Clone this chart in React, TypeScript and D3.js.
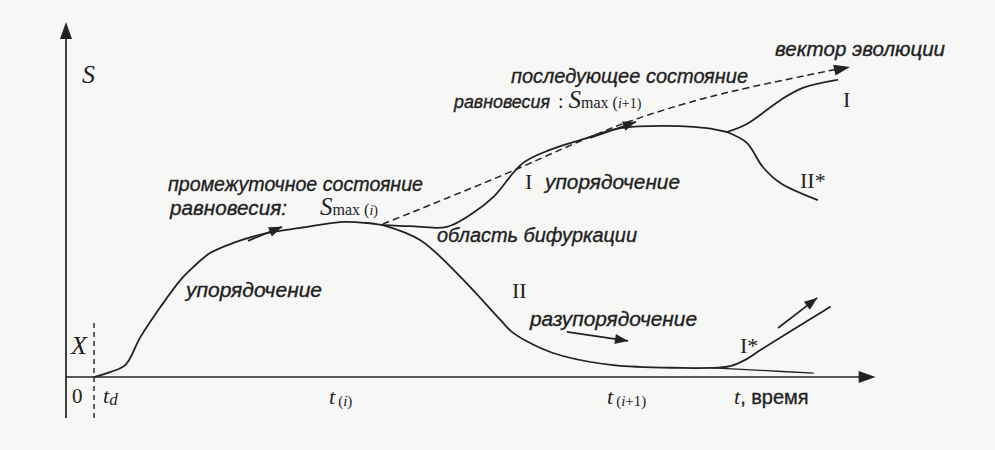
import React, { useEffect } from "react";
import * as d3 from "d3";

type P = [number, number];

// Data: t (0..100 time units) vs S (0..100 entropy units)
const trunk: P[] = [[3.5, 0], [5.5, 1.4], [7.4, 3.4], [9.3, 11.4], [11.8, 20], [14.3, 27.7], [15.9, 31.4], [18, 35.4], [20.9, 38.3], [25.1, 41.1], [29.3, 42.6], [34.6, 44.3], [37.6, 44], [39.6, 43.4]];
const branchII: P[] = [[39.6, 43.4], [44.3, 39.1], [49.3, 28.6], [54.3, 16.3], [55.9, 12.6], [59.3, 8.3], [62.1, 6], [68.4, 3.4], [76.8, 2.6], [80.9, 2.6]];
const tailToAxis: P[] = [[80.9, 2.6], [86.8, 1.9], [93.4, 1.1]];
const branchIStar: P[] = [[80.9, 2.6], [83, 3.1], [84.9, 4.9], [86.8, 7.7], [95.5, 20]];
const branchUpper: P[] = [[39.6, 43.4], [43, 43.1], [47.6, 42.9], [50.9, 46.9], [53.4, 51.4], [57.1, 61.1], [60.5, 64.9], [64.3, 67.7], [69.3, 71.1], [76.8, 71.7], [80.1, 71.1], [82.6, 70]];
const branchI: P[] = [[82.6, 70], [85.1, 72.3], [89.3, 79.1], [92.1, 82.6], [96.4, 84.9]];
const branchIIStar: P[] = [[82.6, 70], [85.1, 66.9], [87.1, 60], [89.3, 55.4], [93.9, 50.6]];
const evolutionVector: P[] = [[39.6, 43.7], [54.3, 57.4], [64.3, 67.4], [70.5, 73.1], [80.9, 80.3], [98, 88.6]];
const arrowOrdering1: P[] = [[22.75, 38.9], [27, 42.9]];
const arrowOrdering2: P[] = [[65.5, 68.3], [71.25, 72.9]];
const arrowDisorder: P[] = [[62.6, 12.9], [70.25, 10.3]];
const arrowIStar: P[] = [[89, 14], [93.9, 22.6]];
const tdTime = 3.5;

const W = 995;
const H = 450;
const x = d3.scaleLinear().domain([0, 100]).range([66, 866]);
const y = d3.scaleLinear().domain([0, 100]).range([377, 27]);

const curve = d3
  .line<P>()
  .x((d) => x(d[0]))
  .y((d) => y(d[1]))
  .curve(d3.curveCatmullRom.alpha(0.5));
const straight = d3
  .line<P>()
  .x((d) => x(d[0]))
  .y((d) => y(d[1]));

function head(pts: P[], len: number, half: number): string {
  const a = pts[pts.length - 2];
  const b = pts[pts.length - 1];
  const x1 = x(a[0]), y1 = y(a[1]), x2 = x(b[0]), y2 = y(b[1]);
  const dx = x2 - x1, dy = y2 - y1;
  const L = Math.hypot(dx, dy);
  const ux = dx / L, uy = dy / L;
  const bx = x2 - ux * len, by = y2 - uy * len;
  const px = -uy * half, py = ux * half;
  return `${x2},${y2} ${bx + px},${by + py} ${bx - px},${by - py}`;
}

const INK = "#222222";
const SANS = "'Liberation Sans', Arial, sans-serif";
const SERIF = "'Liberation Serif', 'DejaVu Serif', serif";

export default function App() {
  useEffect(() => {
    document.body.style.margin = "0";
  }, []);

  const x0 = x(0);
  const yAxisTop = y(101.4);
  const yAxisBottom = y(-11.7);
  const xAxisEnd = x(101.2);

  const sansText = (t: string, px: number, py: number, w: number, size = 20) => (
    <text
      x={px}
      y={py}
      fontFamily={SANS}
      fontStyle="italic"
      fontSize={size}
      fill={INK}
      stroke={INK}
      strokeWidth={0.35}
      textLength={w}
      lengthAdjust="spacingAndGlyphs"
    >
      {t}
    </text>
  );

  const evoPath = evolutionVector
    .slice(0, -1)
    .concat([[evolutionVector[5][0] - 1.5, evolutionVector[5][1] - 0.6]]);

  return (
    <svg width={W} height={H} style={{ position: "absolute", left: 0, top: 0, display: "block" }}>
      <rect x={0} y={0} width={W} height={H} fill="#f7f7f6" />

      {/* axes */}
      <line x1={x0} y1={yAxisBottom} x2={x0} y2={yAxisTop + 12} stroke={INK} strokeWidth={1.7} />
      <polygon points={`${x0},${yAxisTop} ${x0 - 6},${yAxisTop + 17} ${x0 + 6},${yAxisTop + 17}`} fill={INK} />
      <line x1={x0} y1={y(0)} x2={xAxisEnd - 12} y2={y(0)} stroke={INK} strokeWidth={1.7} />
      <polygon points={`${xAxisEnd},${y(0)} ${xAxisEnd - 17},${y(0) - 6} ${xAxisEnd - 17},${y(0) + 6}`} fill={INK} />

      {/* t_d dashed marker */}
      <line x1={x(tdTime)} y1={y(15.4)} x2={x(tdTime)} y2={yAxisBottom} stroke={INK} strokeWidth={1.4} strokeDasharray="5,4" />

      {/* curves */}
      <g fill="none" stroke={INK} strokeWidth={1.8} strokeLinecap="round" strokeLinejoin="round">
        <path d={curve(trunk) || ""} />
        <path d={curve(branchII) || ""} />
        <path d={curve(tailToAxis) || ""} strokeWidth={1.3} />
        <path d={curve(branchIStar) || ""} />
        <path d={curve(branchUpper) || ""} />
        <path d={curve(branchI) || ""} />
        <path d={curve(branchIIStar) || ""} />
      </g>

      {/* evolution vector (dashed) */}
      <path d={curve(evoPath) || ""} fill="none" stroke={INK} strokeWidth={1.5} strokeDasharray="7,4" />
      <polygon points={head(evolutionVector, 16, 5.5)} fill={INK} />

      {/* small direction arrows */}
      {[arrowOrdering1, arrowOrdering2, arrowDisorder, arrowIStar].map((a, i) => (
        <g key={i}>
          <path d={straight(a) || ""} stroke={INK} strokeWidth={1.7} fill="none" />
          <polygon points={head(a, 13, 5)} fill={INK} />
        </g>
      ))}

      {/* axis labels */}
      <text x={82} y={83} fontFamily={SERIF} fontStyle="italic" fontSize={26} fill={INK}>S</text>
      <text x={71} y={354} fontFamily={SERIF} fontStyle="italic" fontSize={26} fill={INK}>X</text>
      <text x={72} y={403} fontFamily={SERIF} fontSize={21} fill={INK}>0</text>
      <text x={103} y={403} fontFamily={SERIF} fontStyle="italic" fontSize={22} fill={INK}>
        t<tspan fontSize={17} dy={2}>d</tspan>
      </text>
      <text x={329} y={404} fontFamily={SERIF} fontStyle="italic" fontSize={22} fill={INK}>
        t<tspan fontSize={15} dx={3} dy={2} fontStyle="normal">(</tspan><tspan fontSize={15}>i</tspan><tspan fontSize={15} fontStyle="normal">)</tspan>
      </text>
      <text x={607} y={404} fontFamily={SERIF} fontStyle="italic" fontSize={22} fill={INK}>
        t<tspan fontSize={15} dx={3} dy={2} fontStyle="normal">(</tspan><tspan fontSize={15}>i</tspan><tspan fontSize={15} fontStyle="normal">+1)</tspan>
      </text>
      <text x={734} y={404} fontFamily={SERIF} fontStyle="italic" fontSize={22} fill={INK}>
        t<tspan fontFamily={SANS} fontStyle="normal" fontSize={20} stroke={INK} strokeWidth={0.3}>, время</tspan>
      </text>

      {/* annotations */}
      {sansText("промежуточное состояние", 168, 191, 255)}
      {sansText("равновесия:", 170, 215, 117)}
      <text x={320} y={215} fontFamily={SERIF} fontStyle="italic" fontSize={25} fill={INK}>
        S<tspan fontStyle="normal" fontSize={16}>max (</tspan><tspan fontSize={14}>i</tspan><tspan fontStyle="normal" fontSize={14}>)</tspan>
      </text>
      {sansText("упорядочение", 186, 297, 136)}
      {sansText("область бифуркации", 437, 242, 200)}
      <text x={525} y={189} fontFamily={SERIF} fontSize={22} fill={INK}>I</text>
      {sansText("упорядочение", 545, 189, 135)}
      {sansText("последующее состояние", 511, 83, 237)}
      {sansText("равновесия", 454, 108, 96, 18)}
      <text x={558} y={108} fontFamily={SERIF} fontSize={20} fill={INK}>
        <tspan>: </tspan>
        <tspan fontStyle="italic" fontSize={25}>S</tspan>
        <tspan fontSize={16}>max (</tspan><tspan fontStyle="italic" fontSize={14}>i</tspan><tspan fontSize={14}>+1)</tspan>
      </text>
      {sansText("вектор эволюции", 775, 56, 170)}
      <text x={843} y={107} fontFamily={SERIF} fontSize={22} fill={INK}>I</text>
      <text x={800} y={188} fontFamily={SERIF} fontSize={22} fill={INK}>II*</text>
      <text x={512} y={298} fontFamily={SERIF} fontSize={22} fill={INK}>II</text>
      {sansText("разупорядочение", 530, 326, 167)}
      <text x={740} y={353} fontFamily={SERIF} fontSize={22} fill={INK}>I*</text>
    </svg>
  );
}
